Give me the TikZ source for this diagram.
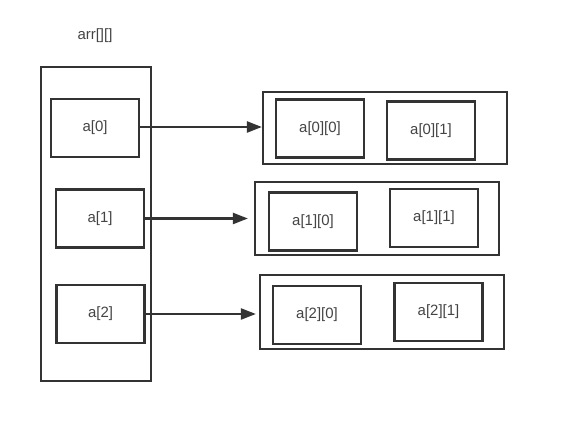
\documentclass[tikz,border=0pt]{standalone}
\usepackage{fontspec}
\setmainfont{Liberation Sans}
\usepackage{tikz}
\usetikzlibrary{positioning,arrows.meta,calc}

\definecolor{linegray}{HTML}{333333}
\definecolor{textgray}{HTML}{444444}

\begin{document}
\begin{tikzpicture}[
    x=0.02cm, y=-0.02cm,
    outer/.style={draw=linegray, line width=1.3pt, minimum width=2.2cm},
    cell/.style={draw=linegray, line width=1.3pt, minimum width=1.76cm,
        minimum height=1.16cm, font=\fontsize{8.5}{10}\selectfont, text=textgray},
    arrow/.style={-{Triangle[length=0.3cm, width=0.22cm]}, draw=linegray,
        fill=linegray, line width=1.3pt}
]
\fill[white] (0,0) rectangle (571,438);
\useasboundingbox (0,0) rectangle (571,438);

% ---- Pointer array ----
\node[font=\fontsize{8.5}{10}\selectfont, text=textgray] (title) at (95,36) {arr[][]};
\node[outer, minimum height=6.28cm] (arr) at (96,224) {};
\node[cell] (a0) at (95,128) {a[0]};
\node[cell] (a1) at (100,218.5) {a[1]};
\node[cell] (a2) at (100.5,314) {a[2]};

% ---- Rows ----
\node[outer, minimum width=4.88cm, minimum height=1.44cm] (row0) at (385,128) {};
\node[cell] (a00) at (320,128.5) {a[0][0]};
\node[cell] (a01) at (431,130.5) {a[0][1]};

\node[outer, minimum width=4.88cm, minimum height=1.46cm] (row1) at (377,218.5) {};
\node[cell] (a10) at (313,221.5) {a[1][0]};
\node[cell] (a11) at (434,218) {a[1][1]};

\node[outer, minimum width=4.88cm, minimum height=1.48cm] (row2) at (382,312) {};
\node[cell] (a20) at (317,315) {a[2][0]};
\node[cell] (a21) at (438.5,312) {a[2][1]};

% Pointer arrows
\draw[arrow] ($(a0.east)+(0,-1)$) -- ($(a0.east -| row0.west)+(0,-1)$);
\draw[arrow, shorten >=0.12cm] (a1.east) -- (a1.east -| row1.west);
\draw[arrow, shorten >=0.06cm] (a2.east) -- (a2.east -| row2.west);
\end{tikzpicture}
\end{document}
